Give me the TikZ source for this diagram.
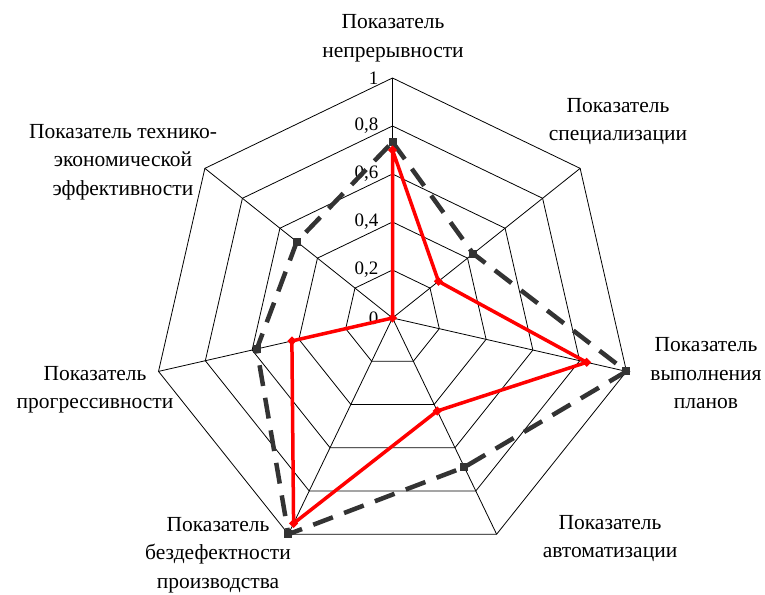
\documentclass[tikz,border=0pt]{standalone}
\usepackage{fontspec}
\setmainfont{Liberation Serif}
\definecolor{darkc}{HTML}{333333}
\begin{document}
\begin{tikzpicture}[x=1pt,y=1pt,
  grid/.style={line width=0.8pt, black},
  lbl/.style={font=\fontsize{21.5}{28.5}\selectfont, align=center, inner sep=0pt},
  ticklbl/.style={font=\fontsize{19}{20}\selectfont, anchor=east, inner sep=0pt},
  redser/.style={red, line width=3.5pt, line join=round},
  darkser/.style={darkc, line width=4.5pt, dash pattern=on 21pt off 12pt},
  sqm/.style={rectangle, fill=darkc, minimum size=8pt, inner sep=0pt},
  dim/.style={rectangle, rotate=45, fill=red, minimum size=6.5pt, inner sep=0pt}]
\useasboundingbox (0,0) rectangle (765,594);
\begin{scope}[shift={(392.5,276)}]
  \coordinate (O) at (0,0);
  % grid heptagons
  \foreach \l in {1,...,5} {
    \draw[grid] (90:\l*48) \foreach \k in {1,...,6} { -- ({90-\k*360/7}:\l*48) } -- cycle;
  }
  % spokes
  \foreach \k in {0,...,6} {
    \coordinate (A\k) at ({90-\k*360/7}:240);
    \draw[grid] (O) -- (A\k);
  }
  % tick labels
  \node[ticklbl] (t0) at (-14,0) {0};
  \node[ticklbl] (t1) at (-14,48) {0,2};
  \node[ticklbl] (t2) at (-14,96) {0,4};
  \node[ticklbl] (t3) at (-14,144) {0,6};
  \node[ticklbl] (t4) at (-14,192) {0,8};
  \node[ticklbl] (t5) at (-14,240) {1};
  % dark dashed series
  \foreach \v [count=\k from 0] in {0.733,0.43,1,0.69,1,0.58,0.51}
    \coordinate (D\k) at ({90-\k*360/7}:{\v*240});
  \draw[darkser] (D0) -- (D1) -- (D2) -- (D3) -- (D4) -- (D5) -- (D6) -- cycle;
  \foreach \k in {0,...,6} \node[sqm] (dm\k) at (D\k) {};
  % red series
  \foreach \v [count=\k from 0] in {0.70,0.245,0.83,0.43,0.95,0.43,0}
    \coordinate (R\k) at ({90-\k*360/7}:{\v*240});
  \draw[redser] (R0) -- (R1) -- (R2) -- (R3) -- (R4) -- (R5) -- (R6) -- cycle;
  \foreach \k in {0,...,6} \node[dim] (rm\k) at (R\k) {};
\end{scope}
% axis labels
\node[lbl] (L0) at (393,555.5) {Показатель\\непрерывности};
\node[lbl] (L1) at (618,472.5) {Показатель\\специализации};
\node[lbl] (L2) at (706,220.5) {Показатель\\выполнения\\планов};
\node[lbl] (L3) at (610,55.5) {Показатель\\автоматизации};
\node[lbl] (L4) at (218,39) {Показатель\\бездефектности\\производства};
\node[lbl] (L5) at (95,204) {Показатель\\прогрессивности};
\node[lbl] (L6) at (123,432) {Показатель технико-\\экономической\\эффективности};
\end{tikzpicture}
\end{document}
